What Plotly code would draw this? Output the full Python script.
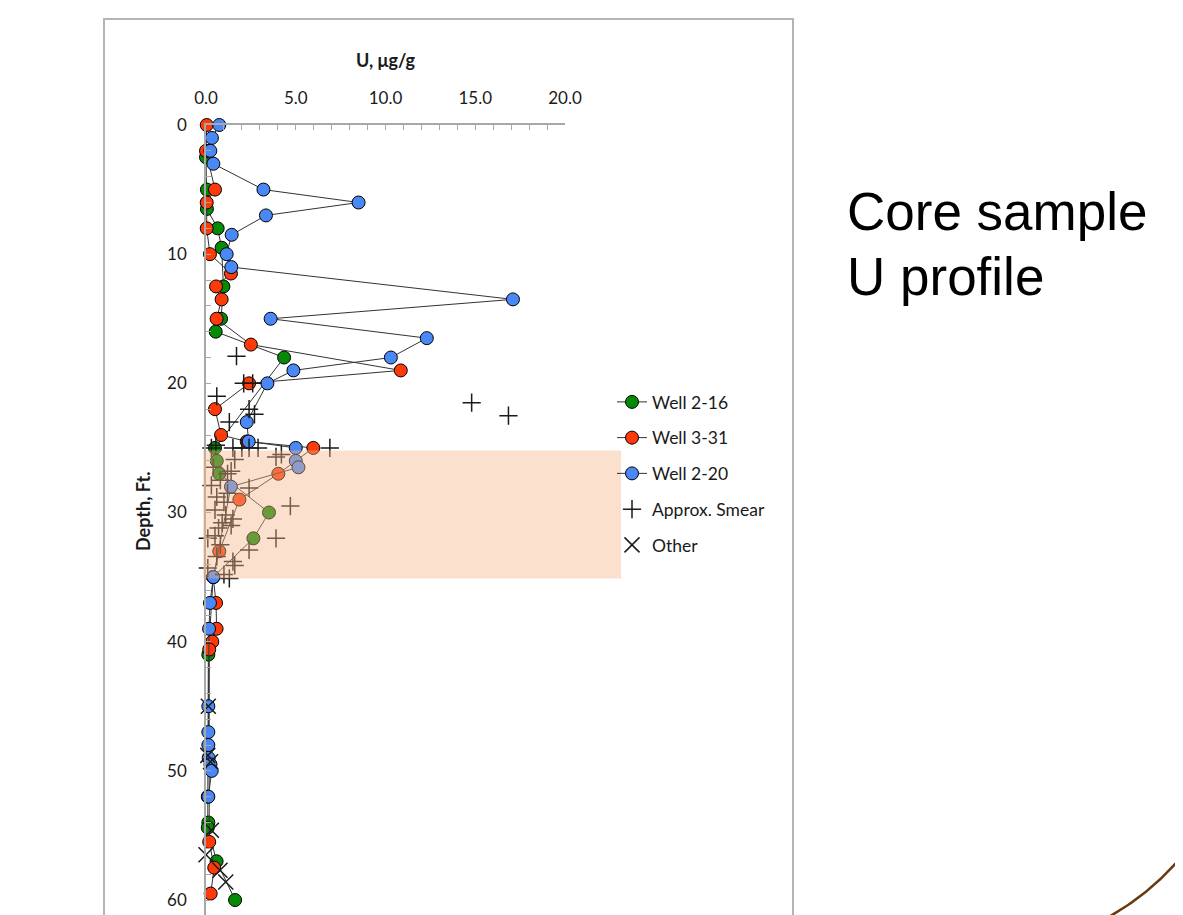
import plotly.graph_objects as go

# ---------------- data ----------------
well216_depth = [2.5, 5, 6.5, 8, 9.5, 12.5, 15, 16, 18, 25, 26, 27, 30, 32, 35, 41, 52, 54, 54.4, 57, 60]
well216_u = [0.0, 0.05, 0.05, 0.65, 0.87, 0.97, 0.84, 0.54, 4.35, 0.5, 0.6, 0.74, 3.51, 2.64, 0.4, 0.13, 0.1, 0.13, 0.1, 0.59, 1.62]

well331_depth = [0, 2, 5, 6, 8, 10, 11.5, 12.5, 13.5, 15, 17, 19, 20, 22, 24, 24.5, 25, 27, 29, 33, 35,
                 37, 39, 40, 40.6, 55.5, 57.5, 59.5]
well331_u = [0.04, 0.0, 0.5, 0.04, 0.04, 0.22, 1.39, 0.56, 0.87, 0.59, 2.5, 10.85, 2.4, 0.5, 0.84, 2.27, 5.98,
             4.03, 1.86, 0.74, 0.4, 0.56, 0.59, 0.35, 0.18, 0.18, 0.46, 0.26]

well220_depth = [0, 1, 2, 3, 5, 6, 7, 8.5, 10, 11, 13.5, 15, 16.5, 18, 19, 20, 23, 24.5, 25, 26, 26.5, 28,
                 35, 37, 39, 45, 47, 48, 49, 49.5, 50, 52]
well220_u = [0.74, 0.33, 0.24, 0.41, 3.2, 8.5, 3.34, 1.43, 1.15, 1.41, 17.1, 3.6, 12.3, 10.3, 4.87, 3.42,
             2.27, 2.38, 5.0, 5.0, 5.15, 1.39, 0.41, 0.22, 0.17, 0.13, 0.13, 0.13, 0.15, 0.25, 0.32, 0.13]

smear_depth = [17.9, 20, 20, 21, 21.5, 22.5, 22, 22.4, 23, 24.8, 25, 25, 25, 25, 25, 25,
               25.5, 25.7, 25.9, 26.5, 26.8, 27, 27.5, 27.9, 28.1, 28.5, 28.8, 29.2, 29.5, 29.8,
               30.2, 30.5, 30.8, 31.0, 31.2, 31.8, 32, 32, 32.5, 32.9, 33.4, 33.8, 34.1, 34.3,
               34.8, 35.1]
smear_u = [1.7, 2.1, 2.6, 0.6, 14.8, 16.85, 2.4, 2.7, 1.3, 0.55, 0.3, 1.5, 2.0, 2.4, 2.9, 6.9,
           4.2, 3.9, 1.6, 0.4, 1.4, 1.2, 0.8, 0.3, 2.4, 1.2, 0.6, 1.0, 4.7, 0.5,
           1.1, 1.5, 0.9, 1.4, 0.7, 0.5, 3.9, 0.1, 0.8, 2.4, 0.6, 1.5, 1.6, 0.1,
           1.0, 1.3]

other_depth = [45, 48.8, 49.3, 54.6, 56.5, 57.7, 58.6]
other_u = [0.13, 0.1, 0.25, 0.3, 0.0, 0.78, 1.1]

x_ticks = [0, 5, 10, 15, 20]
y_ticks = [0, 10, 20, 30, 40, 50, 60]
smear_zone = [25.2, 35.1]  # shaded depth interval, ft

# ---------------- layout geometry ----------------
OFF = 8                      # page body margin (screen px)
W, H = 1183 - OFF, 915 - OFF
ML = 206 - OFF
MR = W - (565 - OFF)
MT = 125 - OFF
MB = 0
PW = W - ML - MR
PH = H - MT - MB
YMAX = 61.16


def px_x(p):
    """screen x pixel -> paper x"""
    return (p - OFF - ML) / PW


def px_y(p):
    """screen y pixel -> paper y"""
    return (H - MB - (p - OFF)) / PH


def depth_y(d):
    return 1 - d / YMAX


FONT = "Lato, 'Open Sans', sans-serif"
LINE_C = "#333333"
AX_C = "#a8a8a8"

fig = go.Figure()


def well_trace(name, u, d, color):
    return go.Scatter(
        x=u, y=d, name=name, mode="lines+markers", legendgroup=name,
        line=dict(color=LINE_C, width=1),
        marker=dict(symbol="circle", size=13, color=color, line=dict(color="black", width=1)),
        cliponaxis=False,
    )


fig.add_trace(well_trace("Well 2-16", well216_u, well216_depth, "#058a05"))
fig.add_trace(well_trace("Well 3-31", well331_u, well331_depth, "#ff3a0a"))
fig.add_trace(well_trace("Well 2-20", well220_u, well220_depth, "#4a88f5"))
fig.add_trace(go.Scatter(
    x=smear_u, y=smear_depth, name="Approx. Smear", mode="markers", legendgroup="smear",
    marker=dict(symbol="cross-thin-open", size=13, color="#1a1a1a", line=dict(color="#1a1a1a", width=1.5)),
    cliponaxis=False,
))
fig.add_trace(go.Scatter(
    x=other_u, y=other_depth, name="Other", mode="markers", legendgroup="other",
    marker=dict(symbol="x-thin-open", size=15, color="#1a1a1a", line=dict(color="#1a1a1a", width=1.5)),
    cliponaxis=False,
))

shapes = [
    # outer chart frame
    dict(type="rect", xref="paper", yref="paper", x0=px_x(104), x1=px_x(793), y0=-0.05, y1=px_y(19),
         line=dict(color="#b4b4b4", width=2), fillcolor="rgba(0,0,0,0)", layer="below"),
    # smear zone shading
    dict(type="rect", xref="paper", yref="paper", x0=px_x(203), x1=px_x(621),
         y0=depth_y(smear_zone[1]), y1=depth_y(smear_zone[0]),
         fillcolor="rgb(243,180,135)", opacity=0.42, line=dict(width=0), layer="above"),
    # decorative arc bottom right
    dict(type="path", xref="paper", yref="paper",
         path=f"M{px_x(1105)},{px_y(919)} Q{px_x(1153)},{px_y(893)} {px_x(1186)},{px_y(851)}",
         line=dict(color="#6b3a10", width=2.5)),
]

annotations = [
    dict(text="<b>U, μg/g</b>", xref="paper", yref="paper", x=0.5, y=px_y(60), showarrow=False,
         font=dict(family=FONT, size=18, color="#1a1a1a"), xanchor="center", yanchor="middle"),
    dict(text="<b>Depth, Ft.</b>", xref="paper", yref="paper", x=px_x(143), y=px_y(512), showarrow=False,
         textangle=-90, font=dict(family=FONT, size=18, color="#1a1a1a"), xanchor="center", yanchor="middle"),
    dict(text="Core sample", xref="paper", yref="paper", x=px_x(845), y=px_y(211),
         showarrow=False, align="left", xanchor="left", yanchor="middle",
         font=dict(family="Liberation Sans, Arial, sans-serif", size=53, color="black")),
    dict(text="U profile", xref="paper", yref="paper", x=px_x(845), y=px_y(276),
         showarrow=False, align="left", xanchor="left", yanchor="middle",
         font=dict(family="Liberation Sans, Arial, sans-serif", size=53, color="black")),
]

fig.update_layout(
    width=W, height=H,
    margin=dict(l=ML, r=MR, t=MT, b=MB, pad=0),
    paper_bgcolor="white", plot_bgcolor="white",
    font=dict(family=FONT, size=17, color="#1a1a1a"),
    shapes=shapes, annotations=annotations,
    showlegend=True,
    legend=dict(x=px_x(612), y=px_y(384), xanchor="left", yanchor="top",
                font=dict(family=FONT, size=17.5, color="#1a1a1a"),
                tracegroupgap=10, bgcolor="rgba(0,0,0,0)", traceorder="grouped"),
    xaxis=dict(side="top", range=[0, 20], tickvals=x_ticks, ticktext=[f"{v:.1f}" for v in x_ticks],
               ticks="inside", ticklen=5, tickcolor=AX_C, showline=True, linecolor=AX_C, linewidth=1.5,
               showgrid=False, zeroline=False, ticklabelstandoff=12,
               minor=dict(dtick=1, ticks="inside", ticklen=5, tickcolor=AX_C, showgrid=False),
               tickfont=dict(family=FONT, size=17, color="#1a1a1a")),
    yaxis=dict(range=[YMAX, 0], tickvals=y_ticks, ticks="inside", ticklen=5, tickcolor=AX_C,
               showline=True, linecolor=AX_C, linewidth=1.5, showgrid=False, zeroline=False,
               ticklabelstandoff=14,
               minor=dict(dtick=2, ticks="inside", ticklen=5, tickcolor=AX_C, showgrid=False),
               tickfont=dict(family=FONT, size=17, color="#1a1a1a")),
)

fig.write_html("out.html")
